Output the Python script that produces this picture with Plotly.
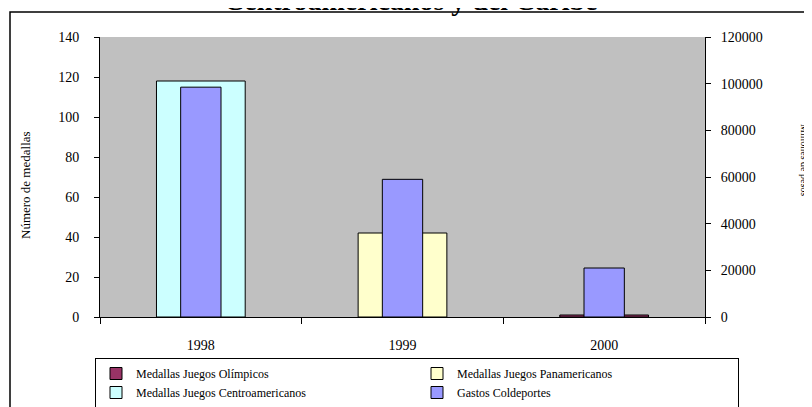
import plotly.graph_objects as go

years = ["1998", "1999", "2000"]
olimpicos = [None, None, 1]
panamericanos = [None, 42, None]
centroamericanos = [118, None, None]
gastos = [98500, 59000, 21000]

left_ticks = [0, 20, 40, 60, 80, 100, 120, 140]
right_ticks = [0, 20000, 40000, 60000, 80000, 100000, 120000]

FONT = "Liberation Serif"
line = dict(color="black", width=1)

fig = go.Figure()
fig.add_trace(go.Bar(x=years, y=olimpicos, name="Medallas Juegos Olímpicos",
                     marker=dict(color="#993366", line=line), width=0.44))
fig.add_trace(go.Bar(x=years, y=panamericanos, name="Medallas Juegos Panamericanos",
                     marker=dict(color="#FFFFCC", line=line), width=0.44))
fig.add_trace(go.Bar(x=years, y=centroamericanos, name="Medallas Juegos Centroamericanos",
                     marker=dict(color="#CCFFFF", line=line), width=0.44))
fig.add_trace(go.Bar(x=years, y=gastos, name="Gastos Coldeportes", yaxis="y2",
                     marker=dict(color="#9999FF", line=line), width=0.2))

# page body adds an 8px offset; figure coords = screen coords - OFF
OFF = 8
W, H = 812 - OFF, 407 - OFF
PL, PR, PT, PB = 100, 705, 37, 317  # plot area in screen pixels
L, R, T, B = PL - OFF, W - (PR - OFF), PT - OFF, H - (PB - OFF)
pw = PR - PL
ph = PB - PT

def px_x(x):
    return (x - PL) / pw

def px_y(y):
    return (PB - y) / ph

fig.update_layout(
    width=W, height=H,
    margin=dict(l=L, r=R, t=T, b=B, pad=0, autoexpand=False),
    paper_bgcolor="white",
    plot_bgcolor="#C0C0C0",
    barmode="overlay",
    font=dict(family=FONT, color="black", size=14),
    showlegend=True,
    xaxis=dict(type="category", showline=True, linecolor="black", linewidth=1,
               ticks="outside", tickson="boundaries", ticklen=6, tickcolor="black",
               showgrid=False, tickfont=dict(size=14), ticklabelstandoff=15),
    yaxis=dict(range=[0, 140], tickvals=left_ticks, showline=True, linecolor="black",
               linewidth=1, ticks="outside", ticklen=5, tickcolor="black",
               showgrid=False, zeroline=False, tickfont=dict(size=14),
               ticklabelstandoff=12),
    yaxis2=dict(range=[0, 120000], tickvals=right_ticks, tickformat="d",
                overlaying="y", side="right",
                showline=True, linecolor="black", linewidth=1, ticks="outside",
                ticklen=5, tickcolor="black", showgrid=False, zeroline=False,
                tickfont=dict(size=14), ticklabelstandoff=7),
    legend=dict(orientation="h", x=px_x(95), y=px_y(358), xanchor="left", yanchor="top",
                bordercolor="black", borderwidth=1, bgcolor="white",
                font=dict(size=12, family=FONT), entrywidth=276, entrywidthmode="pixels",
                traceorder="normal", itemclick=False),
    annotations=[
        dict(text="<b>Centroamericanos y del Caribe</b>", xref="paper", yref="paper",
             x=px_x(411), y=px_y(18), xanchor="center", yanchor="bottom", showarrow=False,
             font=dict(size=28, family=FONT)),
        dict(text="Número de medallas", xref="paper", yref="paper",
             x=px_x(25), y=px_y(185), xanchor="center", yanchor="middle", showarrow=False,
             textangle=-90, font=dict(size=13, family=FONT)),
        dict(text="Millones de pesos", xref="paper", yref="paper",
             x=px_x(805), y=px_y(160), xanchor="center", yanchor="middle", showarrow=False,
             textangle=90, font=dict(size=10, family=FONT)),
    ],
    shapes=[
        dict(type="rect", xref="paper", yref="paper", x0=px_x(10), x1=px_x(830),
             y0=px_y(430), y1=px_y(12), line=dict(color="black", width=1.5),
             fillcolor="rgba(0,0,0,0)", layer="below"),
    ],
)

fig.write_html("out.html")
